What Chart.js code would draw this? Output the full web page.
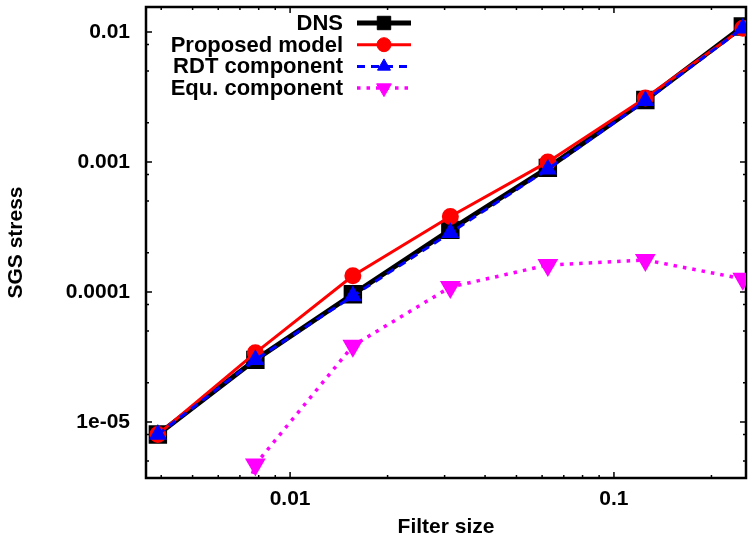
<!DOCTYPE html>
<html>
<head>
<meta charset="utf-8">
<title>SGS stress vs filter size</title>
<script src="https://cdn.jsdelivr.net/npm/chart.js@4.4.1/dist/chart.umd.min.js"></script>
<style>
  html, body { margin: 0; padding: 0; background: #fff; }
  #wrap { width: 748px; height: 543px; }
</style>
</head>
<body>
<div id="wrap"><canvas id="stressChart" width="748" height="543"></canvas></div>
<script>
// Filter widths (fractions of the domain) and the stress level at each one
const filterSizes = [1 / 256, 1 / 128, 1 / 64, 1 / 32, 1 / 16, 1 / 8, 1 / 4];
const dnsStress = [8.0e-6, 3.0e-5, 9.6e-5, 3.0e-4, 9.0e-4, 3.0e-3, 1.1e-2];
const modelStress = [8.0e-6, 3.4e-5, 1.33e-4, 3.8e-4, 1.0e-3, 3.1e-3, 1.07e-2];
const rdtStress = [8.0e-6, 3.0e-5, 9.3e-5, 2.85e-4, 8.8e-4, 2.95e-3, 1.07e-2];
const equStress = [2.0e-8, 4.7e-6, 3.85e-5, 1.09e-4, 1.61e-4, 1.76e-4, 1.26e-4];

const xTickValues = [0.01, 0.1];
const xTickLabels = ["0.01", "0.1"];
const yTickValues = [1e-5, 1e-4, 1e-3, 1e-2];
const yTickLabels = ["1e-05", "0.0001", "0.001", "0.01"];

const FONT = "'Liberation Sans', Arial, Helvetica, sans-serif";

function toPoints(values) {
  return filterSizes.map((x, i) => ({ x: x, y: values[i] }));
}

// log-spaced minor tick values inside [min, max]
function minorTicks(min, max, steps) {
  const out = [];
  for (let d = Math.floor(Math.log10(min)); d <= Math.ceil(Math.log10(max)); d++) {
    steps.forEach((m) => {
      const v = m * Math.pow(10, d);
      if (v >= min && v <= max) out.push(v);
    });
  }
  return out;
}

// gnuplot-like frame: border box with inward ticks on every side
const frameTicks = {
  id: "frameTicks",
  beforeDatasetsDraw(chart) {
    const { ctx, chartArea: a, scales } = chart;
    const xs = scales.x;
    const ys = scales.y;
    ctx.save();
    ctx.strokeStyle = "#000";
    ctx.lineWidth = 1.5;
    ctx.beginPath();
    const xTick = (v, len) => {
      const px = xs.getPixelForValue(v);
      ctx.moveTo(px, a.bottom); ctx.lineTo(px, a.bottom - len);
      ctx.moveTo(px, a.top); ctx.lineTo(px, a.top + len);
    };
    const yTick = (v, len) => {
      const py = ys.getPixelForValue(v);
      ctx.moveTo(a.left, py); ctx.lineTo(a.left + len, py);
      ctx.moveTo(a.right, py); ctx.lineTo(a.right - len, py);
    };
    minorTicks(xs.min, xs.max, [2, 3, 4, 5, 6, 7, 8, 9]).forEach((v) => xTick(v, 3));
    minorTicks(ys.min, ys.max, [2, 5, 8]).forEach((v) => yTick(v, 3));
    xTickValues.forEach((v) => xTick(v, 6));
    yTickValues.forEach((v) => yTick(v, 6));
    ctx.stroke();
    ctx.lineWidth = 2.5;
    ctx.strokeRect(a.left, a.top, a.right - a.left, a.bottom - a.top);
    ctx.restore();
  },
};

// key in the top-left corner: right-aligned labels, sample line and marker
const keyBox = {
  id: "keyBox",
  afterDatasetsDraw(chart) {
    const { ctx } = chart;
    ctx.save();
    ctx.font = "bold 22px " + FONT;
    ctx.textAlign = "right";
    ctx.textBaseline = "middle";
    chart.data.datasets.forEach((ds, i) => {
      const yy = 23 + i * 21.7;
      ctx.fillStyle = "#000";
      ctx.fillText(ds.label, 343, yy + 1);
      ctx.strokeStyle = ds.borderColor;
      ctx.lineWidth = ds.borderWidth;
      ctx.lineCap = "butt";
      ctx.setLineDash(ds.borderDash || []);
      ctx.beginPath();
      ctx.moveTo(357, yy);
      ctx.lineTo(411, yy);
      ctx.stroke();
      ctx.setLineDash([]);
      ctx.fillStyle = ds.pointBackgroundColor;
      ctx.strokeStyle = ds.pointBorderColor;
      ctx.lineWidth = 1;
      Chart.helpers.drawPoint(ctx, {
        pointStyle: ds.pointStyle,
        radius: ds.pointRadius,
        rotation: ds.pointRotation || 0,
        borderWidth: 1,
      }, 384, yy);
    });
    ctx.restore();
  },
};

const ctx = document.getElementById("stressChart").getContext("2d");

new Chart(ctx, {
  type: "line",
  data: {
    datasets: [
      {
        label: "DNS",
        data: toPoints(dnsStress),
        borderColor: "#000000",
        borderWidth: 5,
        pointStyle: "rect",
        pointRadius: 9.5,
        pointBackgroundColor: "#000000",
        pointBorderColor: "#000000",
        order: 4,
      },
      {
        label: "Proposed model",
        data: toPoints(modelStress),
        borderColor: "#ff0000",
        borderWidth: 3,
        pointStyle: "circle",
        pointRadius: 7,
        pointBackgroundColor: "#ff0000",
        pointBorderColor: "#ff0000",
        order: 3,
      },
      {
        label: "RDT component",
        data: toPoints(rdtStress),
        borderColor: "#0000ff",
        borderWidth: 3,
        borderDash: [8, 6],
        pointStyle: "triangle",
        pointRadius: 7.5,
        pointBackgroundColor: "#0000ff",
        pointBorderColor: "#0000ff",
        order: 2,
      },
      {
        label: "Equ. component",
        data: toPoints(equStress),
        borderColor: "#ff00ff",
        borderWidth: 3.5,
        borderDash: [3.5, 6],
        pointStyle: "triangle",
        pointRotation: 180,
        pointRadius: 8.5,
        pointBackgroundColor: "#ff00ff",
        pointBorderColor: "#ff00ff",
        order: 1,
      },
    ],
  },
  options: {
    responsive: false,
    animation: false,
    devicePixelRatio: 1,
    events: [],
    layout: { autoPadding: false, padding: { left: 0, right: 2, top: 7, bottom: 0 } },
    elements: { line: { tension: 0, borderCapStyle: "butt" }, point: { borderWidth: 1 } },
    plugins: { legend: { display: false }, tooltip: { enabled: false } },
    scales: {
      x: {
        type: "logarithmic",
        min: 0.00359,
        max: 0.2557,
        grid: { display: false, drawTicks: false },
        border: { display: false },
        afterBuildTicks: (scale) => {
          scale.ticks = xTickValues.map((v) => ({ value: v }));
        },
        afterFit: (scale) => {
          scale.height = 65;
          scale.paddingLeft = 0;
          scale.paddingRight = 0;
        },
        ticks: {
          autoSkip: false,
          maxRotation: 0,
          padding: 9,
          color: "#000",
          font: { family: FONT, size: 21, weight: "bold" },
          callback: (value, index) => xTickLabels[index],
        },
        title: {
          display: true,
          text: "Filter size",
          color: "#000",
          font: { family: FONT, size: 21, weight: "bold" },
          padding: { top: 0, bottom: 3 },
        },
      },
      y: {
        type: "logarithmic",
        min: 3.7e-6,
        max: 0.01556,
        grid: { display: false, drawTicks: false },
        border: { display: false },
        afterBuildTicks: (scale) => {
          scale.ticks = yTickValues.map((v) => ({ value: v }));
        },
        afterFit: (scale) => {
          scale.width = 146;
          scale.paddingTop = 0;
          scale.paddingBottom = 0;
        },
        ticks: {
          autoSkip: false,
          padding: 16,
          color: "#000",
          font: { family: FONT, size: 21, weight: "bold" },
          callback: (value, index) => yTickLabels[index],
        },
        title: {
          display: true,
          text: "SGS stress",
          color: "#000",
          font: { family: FONT, size: 21, weight: "bold" },
          padding: { top: 4, bottom: 0 },
        },
      },
    },
  },
  plugins: [frameTicks, keyBox],
});
</script>
</body>
</html>
